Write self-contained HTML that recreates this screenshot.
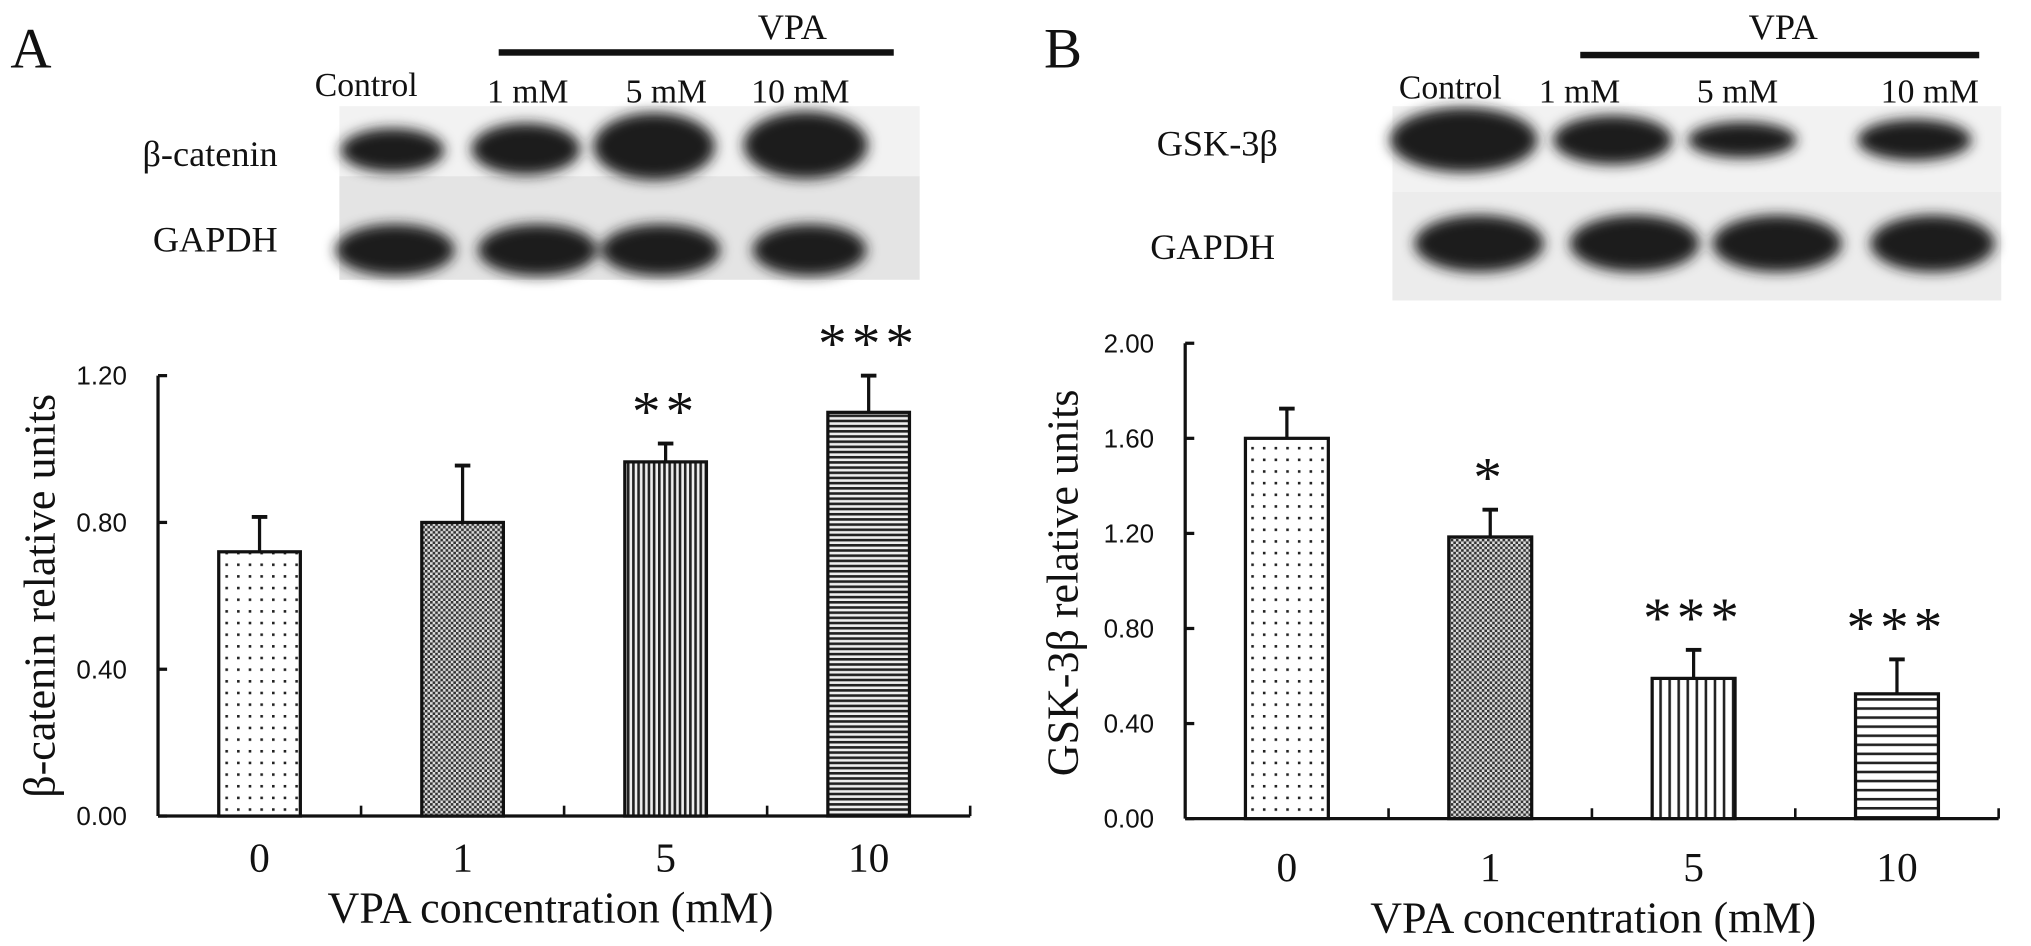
<!DOCTYPE html>
<html><head><meta charset="utf-8"><style>
body{margin:0;background:#fff;width:2031px;height:946px;overflow:hidden}
svg{display:block}
text{font-family:"Liberation Serif",serif;fill:#111}
.tk{font-family:"Liberation Sans",sans-serif;font-size:20px}
</style></head><body>
<svg id="fig" width="2031" height="946" viewBox="0 0 2031 946">
<defs>
<pattern id="pDots" width="9" height="9" patternUnits="userSpaceOnUse"><rect width="9" height="9" fill="#fff"/><rect x="3" y="3" width="2" height="2" fill="#222"/></pattern>
<pattern id="pFine" width="4" height="4" patternUnits="userSpaceOnUse"><rect width="4" height="4" fill="#ddd"/><rect x="0" y="0" width="2" height="2" fill="#333"/><rect x="2" y="2" width="2" height="2" fill="#333"/></pattern>
<pattern id="pVert" width="4" height="4" patternUnits="userSpaceOnUse"><rect width="4" height="4" fill="#eee"/><rect x="0" y="0" width="2" height="4" fill="#222"/></pattern>
<pattern id="pHorz" width="4" height="4" patternUnits="userSpaceOnUse"><rect width="4" height="4" fill="#eee"/><rect x="0" y="0" width="4" height="2" fill="#222"/></pattern>
<pattern id="pVert2" width="7" height="7" patternUnits="userSpaceOnUse"><rect width="7" height="7" fill="#fff"/><rect x="0" y="0" width="2" height="7" fill="#222"/></pattern>
<pattern id="pHorz2" width="7" height="7" patternUnits="userSpaceOnUse"><rect width="7" height="7" fill="#fff"/><rect x="0" y="0" width="7" height="2" fill="#222"/></pattern>
<filter id="blur"><feGaussianBlur stdDeviation="5"/></filter>
</defs>
<g transform="scale(1.2953)">
<text x="8" y="52" font-size="44">A</text>
<text x="585" y="30" font-size="28">VPA</text>
<rect x="385" y="38" width="305" height="5" fill="#111"/>
<text x="243" y="74" font-size="26">Control</text>
<text x="376" y="79" font-size="26">1 mM</text>
<text x="483" y="79" font-size="26">5 mM</text>
<text x="580" y="79" font-size="26">10 mM</text>
<text x="110" y="128" font-size="28">β-catenin</text>
<text x="118" y="194" font-size="28">GAPDH</text>
<g>
<rect x="262" y="82" width="448" height="54" fill="#f2f2f2"/>
<rect x="262" y="136" width="448" height="80" fill="#e4e4e4"/>
<g filter="url(#blur)" fill="#1a1a1a">
<ellipse cx="303" cy="116" rx="40" ry="17"/><ellipse cx="406" cy="115" rx="42" ry="20"/>
<ellipse cx="505" cy="113" rx="47" ry="26"/><ellipse cx="622" cy="112" rx="48" ry="26"/>
<ellipse cx="305" cy="193" rx="46" ry="20"/><ellipse cx="415" cy="193" rx="46" ry="20"/>
<ellipse cx="510" cy="193" rx="46" ry="20"/><ellipse cx="625" cy="193" rx="44" ry="20"/>
</g></g>

<text x="806" y="52" font-size="44">B</text>
<text x="1350" y="30" font-size="28">VPA</text>
<rect x="1220" y="40" width="308" height="5" fill="#111"/>
<text x="1080" y="76" font-size="26">Control</text>
<text x="1188" y="79" font-size="26">1 mM</text>
<text x="1310" y="79" font-size="26">5 mM</text>
<text x="1452" y="79" font-size="26">10 mM</text>
<text x="893" y="120" font-size="28">GSK-3β</text>
<text x="888" y="200" font-size="28">GAPDH</text>
<g>
<rect x="1075" y="82" width="470" height="66" fill="#f2f2f2"/>
<rect x="1075" y="148" width="470" height="84" fill="#ececec"/>
<g filter="url(#blur)" fill="#1a1a1a">
<ellipse cx="1130" cy="108" rx="57" ry="25"/><ellipse cx="1245" cy="108" rx="46" ry="19"/>
<ellipse cx="1345" cy="108" rx="42" ry="14"/><ellipse cx="1478" cy="108" rx="44" ry="16"/>
<ellipse cx="1142" cy="188" rx="50" ry="22"/><ellipse cx="1262" cy="188" rx="50" ry="22"/>
<ellipse cx="1372" cy="188" rx="50" ry="22"/><ellipse cx="1492" cy="188" rx="48" ry="22"/>
</g></g>

<g id="chartA"></g>
<g id="chartB"></g>
</g>
</svg>
<script>
const NS='http://www.w3.org/2000/svg';
const categoriesA=['0','1','5','10'];
const valuesA=[0.72,0.80,0.965,1.10];
const errorsA=[0.095,0.155,0.05,0.10];
const starsA=['','','**','***'];
const ticksA=[0,0.4,0.8,1.2];
const categoriesB=['0','1','5','10'];
const valuesB=[1.60,1.185,0.59,0.525];
const errorsB=[0.125,0.115,0.12,0.145];
const starsB=['','*','***','***'];
const ticksB=[0,0.4,0.8,1.2,1.6,2.0];

function mk(parent,tag,attrs,txt){const e=document.createElementNS(NS,tag);for(const k in attrs)e.setAttribute(k,attrs[k]);if(txt!==undefined)e.textContent=txt;parent.appendChild(e);return e;}

function drawChart(g,cfg){
  const y=v=>cfg.y0-(v/cfg.max)*(cfg.y0-cfg.yTop);
  const n=cfg.cats.length;
  const step=(cfg.xEnd-cfg.ax)/n;
  const xc=i=>cfg.ax+step*(i+0.5);
  const axis=mk(g,'line',{x1:cfg.ax,x2:cfg.ax,y1:y(cfg.max),y2:cfg.y0,stroke:'#111','stroke-width':2.5});
  
  
  const xa=mk(g,'line',{x1:cfg.ax,x2:cfg.xEnd,y1:cfg.y0,y2:cfg.y0,stroke:'#111','stroke-width':2.5});
  
  
  for(let i=1;i<=n;i++){
    const xt=mk(g,'line',{x1:cfg.ax+step*i,x2:cfg.ax+step*i,y1:cfg.y0,y2:cfg.y0-8,stroke:'#111','stroke-width':2});
    
    
  }
  cfg.ticks.forEach(t=>{
    const tl=mk(g,'line',{x1:cfg.ax,x2:cfg.ax+7,y1:y(t),y2:y(t),stroke:'#111','stroke-width':2.5});
    
    
    const tx=mk(g,'text',{x:cfg.ax-63,y:y(t)+7,class:'tk',textLength:39,lengthAdjust:'spacingAndGlyphs'},t.toFixed(2));
    
    
  });
  cfg.cats.forEach((c,i)=>{
    const cx=xc(i), v=cfg.vals[i], e=cfg.errs[i];
    const el=mk(g,'line',{x1:cx,x2:cx,y1:y(v),y2:y(v+e),stroke:'#111','stroke-width':2.5});
    
    
    const cap=mk(g,'line',{x1:cx-6,x2:cx+6,y1:y(v+e),y2:y(v+e),stroke:'#111','stroke-width':3});
    
    
    const r=mk(g,'rect',{x:cx-cfg.bw/2,y:y(v),width:cfg.bw,height:cfg.y0-y(v),fill:'url(#'+cfg.pats[i]+')',stroke:'#111','stroke-width':2.5});
    
    
    if(cfg.stars[i]){
      const s=mk(g,'text',{x:cx,y:y(v+e)-10,'text-anchor':'middle','font-size':44,'letter-spacing':4},cfg.stars[i]);
      
      
    }
    const xl=mk(g,'text',{x:cx,y:cfg.xLabY,'text-anchor':'middle','font-size':32},c);
    
    
  });
  const xt=mk(g,'text',{x:cfg.xTitleX,y:cfg.xTitleY,'text-anchor':'middle','font-size':34},'VPA concentration (mM)');
  
  
  const yt=mk(g,'text',{x:0,y:0,'text-anchor':'middle','font-size':34,transform:'translate('+cfg.yTitleX+','+cfg.yTitleY+') rotate(-90)'},cfg.yTitle);
  
  
}
drawChart(document.getElementById('chartA'),{cats:categoriesA,vals:valuesA,errs:errorsA,stars:starsA,ticks:ticksA,
  max:1.2,y0:630,yTop:290,ax:122,xEnd:749,bw:63,pats:['pDots','pFine','pVert','pHorz'],
  xLabY:673,xTitleX:425,xTitleY:712,yTitleX:42,yTitleY:460,yTitle:'β-catenin relative units'});
drawChart(document.getElementById('chartB'),{cats:categoriesB,vals:valuesB,errs:errorsB,stars:starsB,ticks:ticksB,
  max:2.0,y0:632,yTop:265,ax:915,xEnd:1543,bw:64,pats:['pDots','pFine','pVert2','pHorz2'],
  xLabY:680,xTitleX:1230,xTitleY:720,yTitleX:832,yTitleY:450,yTitle:'GSK-3β relative units'});
document.getElementById('chartA');
document.getElementById('chartA');
document.getElementById('chartB');
document.getElementById('chartB');
</script>
</body></html>
